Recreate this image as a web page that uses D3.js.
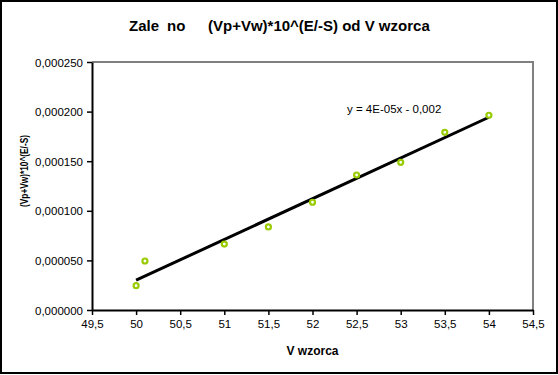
<!DOCTYPE html>
<html><head><meta charset="utf-8">
<script src="https://cdn.jsdelivr.net/npm/d3@7"></script>
<style>
body{margin:0;background:#fff;}
svg{display:block;font-family:"Liberation Sans",Arial,sans-serif;}
</style></head>
<body>
<script>
const xValues = [50, 50.1, 51, 51.5, 52, 52.5, 53, 53.5, 54];
const yValues = [0.0000245, 0.0000494, 0.0000665, 0.0000837, 0.0001086, 0.0001361, 0.0001489, 0.0001791, 0.0001963];
const xTicks = [49.5, 50, 50.5, 51, 51.5, 52, 52.5, 53, 53.5, 54, 54.5];
const yTicks = [0, 0.00005, 0.0001, 0.00015, 0.0002, 0.00025];
const titleParts = ["Zale", "no", "(Vp+Vw)*10^(E/-S) od V wzorca"];
const xTitle = "V wzorca";
const yTitle = "(Vp+Vw)*10^(E/-S)";
const equation = "y = 4E-05x - 0,002";

const W = 558, H = 375;
const svg = d3.select("body").append("svg").attr("width", W).attr("height", H);
svg.append("rect").attr("x",0).attr("y",0).attr("width",W).attr("height",H).attr("fill","#fff");
svg.append("rect").attr("x",1).attr("y",1).attr("width",556).attr("height",372)
  .attr("fill","none").attr("stroke","#000").attr("stroke-width",2);

const x = d3.scaleLinear().domain([49.5, 54.5]).range([92, 533]);
const y = d3.scaleLinear().domain([0, 0.00025]).range([310, 62]);

// plot border (top/right grey)
svg.append("path").attr("d", `M${x(49.5)},${y(0.00025)}H${x(54.5)}V${y(0)}`)
  .attr("fill","none").attr("stroke","#808080").attr("stroke-width",2);

const fmtX = v => String(v).replace(".", ",");
const fmtY = v => v.toFixed(6).replace(".", ",");

const xa = svg.append("g").attr("transform", `translate(0,${y(0)})`)
  .call(d3.axisBottom(x).tickValues(xTicks).tickFormat(fmtX).tickSize(5).tickSizeOuter(0).tickPadding(5));
const ya = svg.append("g").attr("transform", `translate(${x(49.5)},0)`)
  .call(d3.axisLeft(y).tickValues(yTicks).tickFormat(fmtY).tickSize(5).tickSizeOuter(0).tickPadding(4));
[xa, ya].forEach(a => {
  a.select(".domain").attr("stroke","#000").attr("stroke-width",2);
  a.selectAll(".tick line").attr("stroke","#000").attr("stroke-width",1.5);
  a.selectAll(".tick text").attr("fill","#000").style("font-size","11.5px").style("font-family","'Liberation Sans',Arial,sans-serif");
});
ya.selectAll(".tick text").attr("dy","0.35em");

// linear regression trend line
const n = xValues.length;
const mx = d3.mean(xValues), my = d3.mean(yValues);
let sxy = 0, sxx = 0;
for (let i = 0; i < n; i++) { sxy += (xValues[i]-mx)*(yValues[i]-my); sxx += (xValues[i]-mx)**2; }
const slope = sxy/sxx, icpt = my - slope*mx;
const x0 = d3.min(xValues), x1 = d3.max(xValues);
svg.append("line")
  .attr("x1", x(x0)).attr("y1", y(icpt + slope*x0))
  .attr("x2", x(x1)).attr("y2", y(icpt + slope*x1))
  .attr("stroke","#000").attr("stroke-width",3);

svg.append("g").selectAll("circle").data(xValues).join("circle")
  .attr("cx", d => x(d)).attr("cy", (d,i) => y(yValues[i])).attr("r", 2.5)
  .attr("fill","#fff").attr("stroke","#99CC00").attr("stroke-width",2.2);

svg.append("text").attr("x",347).attr("y",113).style("font-size","11.5px").text(equation);

const t = svg.append("text").attr("y",31).style("font-size","15px").style("font-weight","bold");
const tx = [129, 167, 208];
titleParts.forEach((p,i) => t.append("tspan").attr("x", tx[i]).text(p));

svg.append("text").attr("x", (x(49.5)+x(54.5))/2).attr("y",355).attr("text-anchor","middle")
  .style("font-size","12px").style("font-weight","bold").text(xTitle);

svg.append("text").attr("transform","translate(28,171) rotate(-90)").attr("text-anchor","middle")
  .attr("textLength",72).attr("lengthAdjust","spacingAndGlyphs")
  .style("font-size","10.5px").style("font-weight","bold").text(yTitle);
</script>
</body></html>
